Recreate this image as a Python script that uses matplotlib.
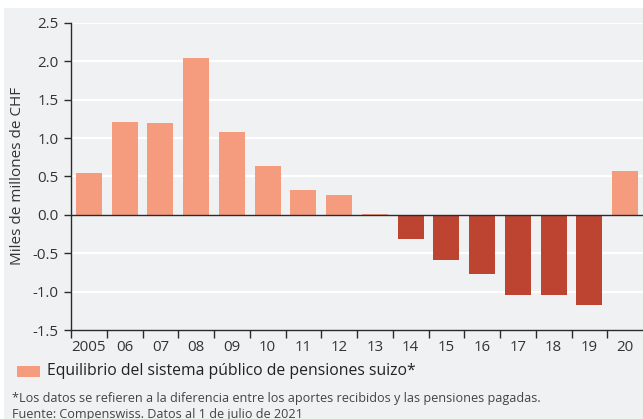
import matplotlib
matplotlib.use("Agg")
import matplotlib.pyplot as plt
from matplotlib.patches import Rectangle
import numpy as np

years = ["2005", "06", "07", "08", "09", "10", "11", "12", "13", "14", "15", "16", "17", "18", "19", "20"]
values = [0.54, 1.21, 1.20, 2.04, 1.08, 0.64, 0.32, 0.26, 0.01, -0.32, -0.59, -0.77, -1.05, -1.05, -1.18, 0.57]
yticks = [-1.5, -1.0, -0.5, 0.0, 0.5, 1.0, 1.5, 2.0, 2.5]

POS = "#f59b7e"
NEG = "#bc4430"
BG = "#f0f1f3"
TXT = "#333333"

plt.rcParams['font.family'] = ['Open Sans', 'DejaVu Sans']

fig = plt.figure(figsize=(6.43, 4.19), dpi=100)
fig.patch.set_facecolor("white")
fig.add_artist(Rectangle((4/643, 0), 1, 1 - 8/419, transform=fig.transFigure,
                         facecolor=BG, edgecolor="none", zorder=-10))

ax = fig.add_axes([71/643, 1 - 330/419, 1 - 71/643, (330 - 23)/419])
ax.set_facecolor(BG)
x = np.arange(len(years))
colors = [POS if v >= 0 else NEG for v in values]
ax.bar(x, values, width=0.73, color=colors, zorder=3, edgecolor="none")

ax.set_xlim(-0.5, len(years) - 0.5)
ax.set_ylim(-1.5, 2.5)
ax.set_yticks(yticks)
ax.set_yticklabels([f"{t:.1f}" for t in yticks], color=TXT, fontsize=10.8)
for t in yticks:
    if t != 0 and t != -1.5:
        ax.axhline(t, color="white", lw=1.6, zorder=1)
ax.axhline(0, color="#2b2b2b", lw=1.0, zorder=4)

ax.set_xticks(x)
ax.set_xticklabels(years, color=TXT, fontsize=10.8)
ax.tick_params(axis="x", which="major", length=0, pad=7)
ax.set_xticks(np.arange(-0.5, len(years) - 0.5, 1), minor=True)
ax.tick_params(axis="x", which="minor", length=6, width=1.0, color="#2b2b2b")
ax.tick_params(axis="y", length=5, width=1.0, color="#2b2b2b", pad=4)

for s in ["top", "right"]:
    ax.spines[s].set_visible(False)
for s in ["left", "bottom"]:
    ax.spines[s].set_color("#2b2b2b")
    ax.spines[s].set_linewidth(1.0)

fig.text(18/643, 1 - 176/419, "Miles de millones de CHF", rotation=90, ha="center", va="center",
         color=TXT, fontsize=11)

fig.add_artist(Rectangle((17/643, 1 - 377/419), 23/643, 11/419, transform=fig.transFigure,
                         facecolor=POS, edgecolor="none"))
fig.text(47/643, 1 - 371/419, "Equilibrio del sistema público de pensiones suizo*",
         ha="left", va="center", color="#222222", fontsize=11.3)
fig.text(12/643, 1 - 398/419,
         "*Los datos se refieren a la diferencia entre los aportes recibidos y las pensiones pagadas.",
         ha="left", va="center", color="#444444", fontsize=9.1)
fig.text(12/643, 1 - 414/419, "Fuente: Compenswiss. Datos al 1 de julio de 2021",
         ha="left", va="center", color="#444444", fontsize=9.1)

fig.savefig("out.png", dpi=100, facecolor=fig.get_facecolor())
